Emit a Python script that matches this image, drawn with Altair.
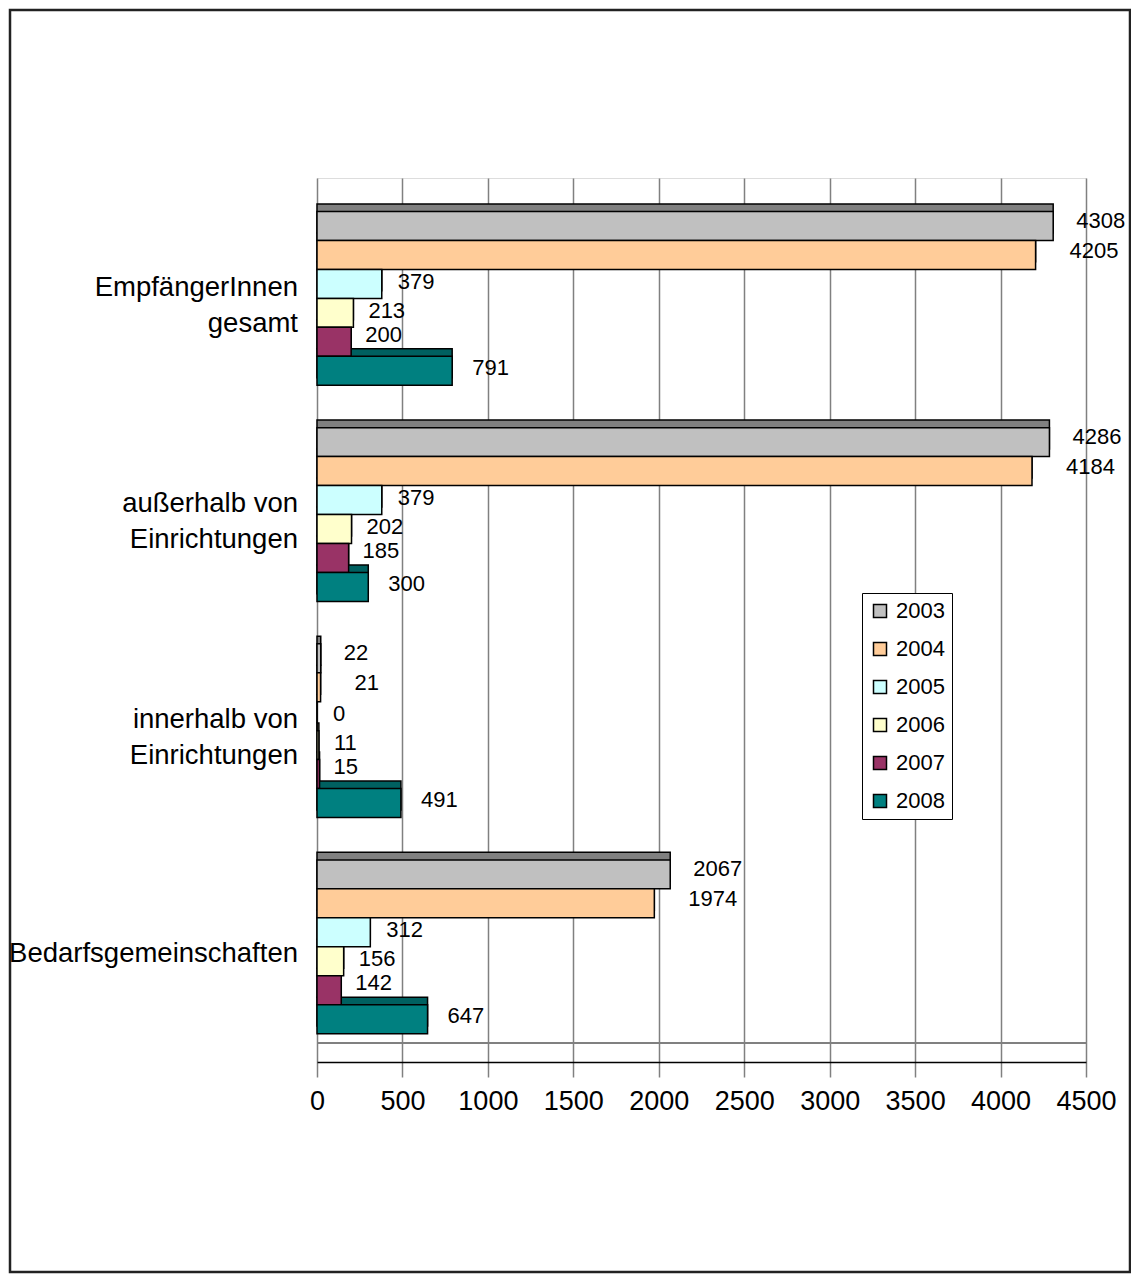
import altair as alt
import pandas as pd

# ---------------- data ----------------
categories = [
    "EmpfängerInnen\ngesamt",
    "außerhalb von\nEinrichtungen",
    "innerhalb von\nEinrichtungen",
    "Bedarfsgemeinschaften",
]
years = ["2003", "2004", "2005", "2006", "2007", "2008"]
v2003 = [4308, 4286, 22, 2067]
v2004 = [4205, 4184, 21, 1974]
v2005 = [379, 379, 0, 312]
v2006 = [213, 202, 11, 156]
v2007 = [200, 185, 15, 142]
v2008 = [791, 300, 491, 647]
x_ticks = [0, 500, 1000, 1500, 2000, 2500, 3000, 3500, 4000, 4500]

series = [v2003, v2004, v2005, v2006, v2007, v2008]

# ---------------- styles ----------------
fill_colors = ["#C0C0C0", "#FFCC99", "#CCFFFF", "#FFFFCC", "#993366", "#008080"]
face_colors = ["#808080", "#BF9973", "#99BFBF", "#BFBF99", "#73264D", "#006060"]
label_dx = {"2003": 23, "2004": 34, "2005": 16, "2006": 15, "2007": 14, "2008": 20}
label_dy = {"2003": -5, "2004": -4, "2005": -2, "2006": -2, "2007": -7, "2008": -3}
FONT = "Arial, 'Liberation Sans', sans-serif"

GROUP_OFF = 0.065   # gap between band top and first bar (band units)
BAR_H = 0.134       # bar thickness (band units)
FACE = 0.035        # 3D top-face depth (band units)
FLOOR = 3.912       # back-wall floor line
LINE_H = 36         # category label line height (px)
BAND_PX = 216

rows = []
for yi, (yr, vals) in enumerate(zip(years, series)):
    for ci, v in enumerate(vals):
        rows.append({"cat": categories[ci], "ci": ci, "year": yr, "yi": yi, "value": v})
df = pd.DataFrame(rows)
cat_df = pd.DataFrame({"cat": categories, "ci": list(range(len(categories)))})

W, H = 769, 884
yscale = alt.Scale(domain=[-0.09, 4], reverse=True, nice=False, zero=False)
xscale = alt.Scale(domain=[0, 4500], nice=False, zero=True)

base = alt.Chart(df).transform_calculate(
    y0=f"datum.ci + {GROUP_OFF} + datum.yi * {BAR_H}",
    y1=f"datum.ci + {GROUP_OFF} + (datum.yi + 1) * {BAR_H}",
    f0=f"datum.ci + {GROUP_OFF} + datum.yi * {BAR_H} - {FACE}",
    f1=f"datum.ci + {GROUP_OFF} + (datum.yi + 1) * {BAR_H} - {FACE}",
    ymid=f"datum.ci + {GROUP_OFF} + (datum.yi + 0.5) * {BAR_H}",
)

x_axis = alt.Axis(
    values=x_ticks, format="d", title=None, labelFontSize=27, labelFont=FONT,
    labelColor="black", tickSize=15, tickColor="#808080", tickWidth=1.5,
    grid=True, gridColor="#808080", gridWidth=1.5, domainColor="black",
    domainWidth=1.5, labelPadding=11, labelFlush=False, labelOverlap=False,
)
y_axis = alt.Axis(
    values=[0, 1, 2, 3, 4], labels=False, title=None, grid=False, tickSize=15,
    tickColor="black", tickWidth=1.5, domainColor="black", domainWidth=1.5,
)

frame = alt.Chart(pd.DataFrame({"a": [0]})).mark_rect(
    fillOpacity=0, stroke="#222222", strokeWidth=2.5
).encode(
    x=alt.value(-307), x2=alt.value(W + 44), y=alt.value(-168), y2=alt.value(H + 210)
)

floor = alt.Chart(pd.DataFrame({"f": [FLOOR]})).mark_rule(
    color="#808080", strokeWidth=2
).encode(y=alt.Y("f:Q", scale=yscale, axis=None))

faces = base.mark_rect(stroke="black", strokeWidth=1.5).encode(
    x=alt.X("value:Q", scale=xscale, axis=x_axis),
    x2=alt.datum(0),
    y=alt.Y("f0:Q", scale=yscale, axis=y_axis),
    y2="f1:Q",
    color=alt.Color("year:N", scale=alt.Scale(domain=years, range=face_colors), legend=None),
)

bars = base.mark_rect(stroke="black", strokeWidth=1.5).encode(
    x=alt.X("value:Q", scale=xscale),
    x2=alt.datum(0),
    y=alt.Y("y0:Q", scale=yscale),
    y2="y1:Q",
    color=alt.Color(
        "year:N",
        scale=alt.Scale(domain=years, range=fill_colors),
        legend=alt.Legend(
            title=None, orient="none", legendX=545, legendY=415,
            symbolType="square", symbolSize=169, symbolStrokeColor="black",
            symbolStrokeWidth=1.5, labelFontSize=22, labelFont=FONT,
            labelColor="black", strokeColor="black", fillColor="white",
            padding=7, rowPadding=16, labelOffset=5,
        ),
    ),
)

text_layers = []
for yr in years:
    text_layers.append(
        base.transform_filter(f"datum.year == '{yr}'").mark_text(
            align="left", baseline="middle", dx=label_dx[yr], dy=label_dy[yr],
            fontSize=22, font=FONT, color="black",
        ).encode(
            x=alt.X("value:Q", scale=xscale),
            y=alt.Y("ymid:Q", scale=yscale),
            text=alt.Text("value:Q", format="d"),
        )
    )

cat_labels = alt.Chart(cat_df).transform_calculate(
    nl="length(split(datum.cat, '\\n'))"
).transform_calculate(
    ymid=f"datum.ci + 0.5 - (datum.nl - 1) * {LINE_H / 2 / BAND_PX}"
).mark_text(
    align="right", baseline="middle", fontSize=27.5, font=FONT, color="black",
    lineBreak="\n", lineHeight=LINE_H,
).encode(
    x=alt.value(-19),
    y=alt.Y("ymid:Q", scale=yscale),
    text="cat:N",
)

chart = alt.layer(frame, floor, faces, bars, *text_layers, cat_labels).resolve_scale(
    color="independent"
).properties(
    width=W, height=H,
    autosize=alt.AutoSizeParams(type="none"),
    padding={"left": 309, "top": 170, "right": 45, "bottom": 212},
).configure_view(
    stroke="#808080", strokeWidth=1.5
).configure(background="white")

chart.save("out.html", embed_options={"renderer": "svg", "actions": False})
